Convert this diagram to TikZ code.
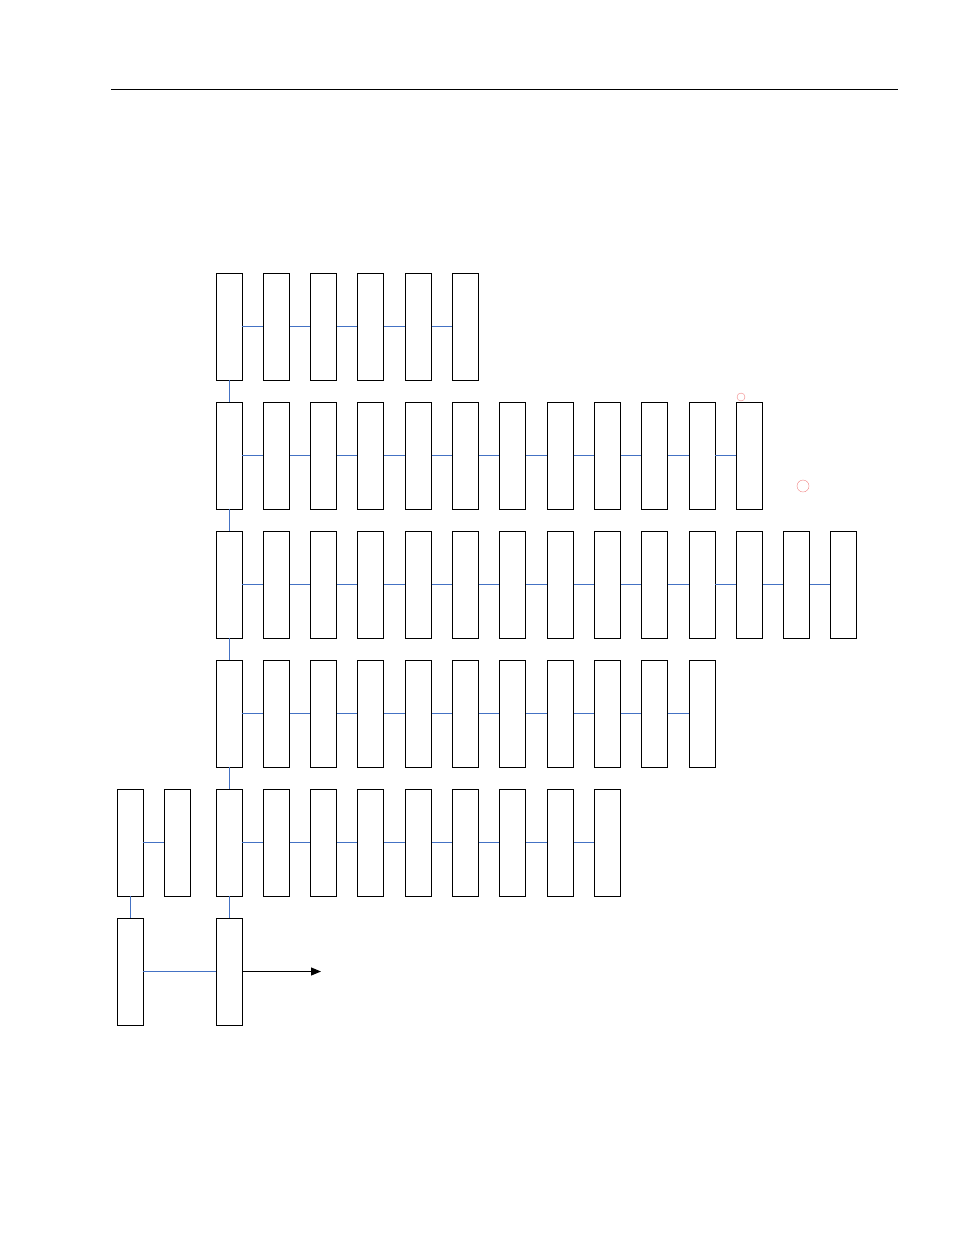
\documentclass[tikz,border=0pt]{standalone}
\usepackage{xcolor}
\usepackage{tikz}
\usetikzlibrary{arrows.meta}
\definecolor{linkblue}{HTML}{4472C4}
\definecolor{markred}{HTML}{F08080}
\tikzset{slot/.style={draw, line width=0.9pt, minimum width=26pt, minimum height=107pt, inner sep=0pt}}
\tikzset{link/.style={linkblue, line width=1pt}}

\begin{document}
\begin{tikzpicture}[x=1pt, y=-1pt]
\useasboundingbox (0,0) rectangle (954,1235);
\draw[line width=1pt] (111,89) -- (898,89);

% rows of slots, \r = row, \n = number of slots
\foreach \r/\n in {1/6, 2/12, 3/14, 4/11, 5/9}
{
    \foreach \c in {1,...,\n}
    {
        \node[slot] (s\r-\c) at ({229+47.3*(\c-1)}, {326.5+129*(\r-1)}) {};
    }
    \foreach \c [evaluate=\c as \p using int(\c-1)] in {2,...,\n}
    {
        \draw[link] (s\r-\p) -- (s\r-\c);
    }
}

% main column
\foreach \r [evaluate=\r as \s using int(\r+1)] in {1,...,4}
{
    \draw[link] (s\r-1) -- (s\s-1);
}

% left part
\node[slot] (a1) at (130,842.5) {};
\node[slot] (a2) at (177,842.5) {};
\node[slot] (b1) at (130,971.5) {};
\node[slot] (b2) at (229,971.5) {};
\coordinate (out) at (321,971.5);

\draw[link] (a1) -- (a2);
\draw[link] (a1) -- (b1);
\draw[link] (s5-1) -- (b2);
\draw[link] (b1) -- (b2);
\draw[line width=1pt, -{Triangle[length=10pt, width=8pt]}] (b2) -- (out);

% marks
\draw[markred] (741,397) circle (4);
\draw[markred] (803,486) circle (6);
\end{tikzpicture}
\end{document}
